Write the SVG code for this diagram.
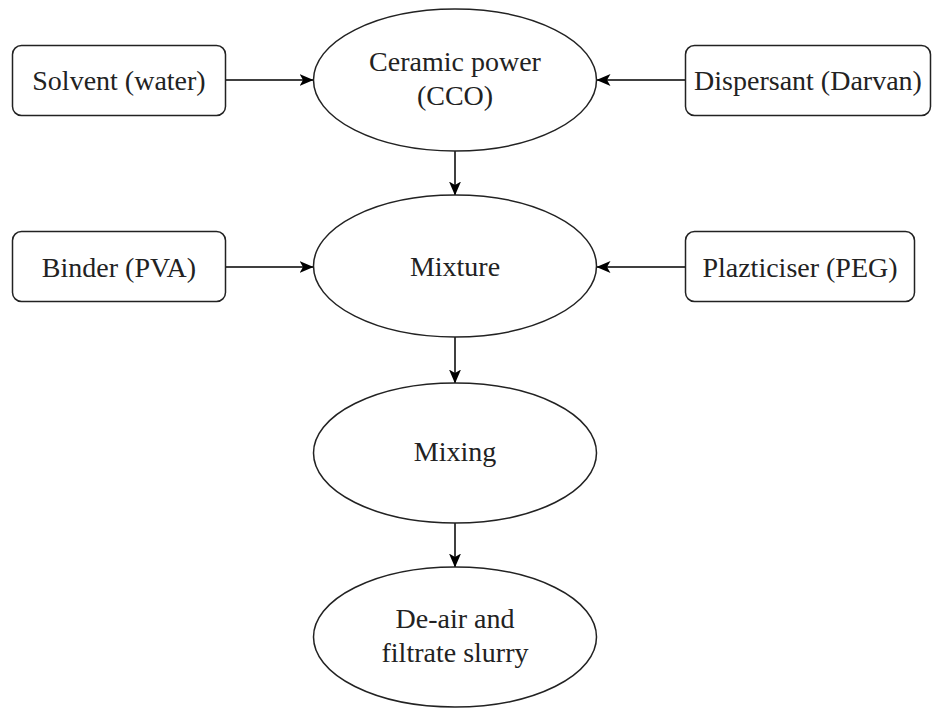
<svg xmlns="http://www.w3.org/2000/svg" width="932" height="709" viewBox="0 0 932 709">
<style>
.box{fill:#fff;stroke:#222;stroke-width:1.5}
.ell{fill:#fff;stroke:#222;stroke-width:1.5}
.t{font-family:"Liberation Serif","Times New Roman",serif;font-size:28px;fill:#222;text-anchor:middle}
.c{stroke:#000;stroke-width:1.5;fill:none;marker-end:url(#ah)}
</style>
<defs>
<marker id="ah" viewBox="0 0 14 12" refX="13.5" refY="6" markerWidth="14" markerHeight="12" orient="auto" markerUnits="userSpaceOnUse">
<path d="M0,0 L14,6 L0,12 L3.5,6 Z" fill="#000"/>
</marker>
</defs>
<rect width="932" height="709" fill="#fff"/>
<g id="connectors">
<line class="c" x1="226" y1="80" x2="313" y2="80"/>
<line class="c" x1="685" y1="80" x2="597" y2="80"/>
<line class="c" x1="455" y1="151" x2="455" y2="195"/>
<line class="c" x1="226" y1="267" x2="313" y2="267"/>
<line class="c" x1="685" y1="267" x2="597" y2="267"/>
<line class="c" x1="455" y1="337" x2="455" y2="383"/>
<line class="c" x1="455" y1="523" x2="455" y2="567"/>
</g>
<g id="solvent">
<rect class="box" x="12.5" y="45.5" width="213" height="70" rx="9"/>
<text class="t" x="119" y="90">Solvent (water)</text>
</g>
<g id="dispersant">
<rect class="box" x="685.5" y="45.5" width="245" height="70" rx="9"/>
<text class="t" x="808" y="90">Dispersant (Darvan)</text>
</g>
<g id="ceramic">
<ellipse class="ell" cx="455" cy="80" rx="141.5" ry="71"/>
<text class="t" x="455" y="71">Ceramic power</text>
<text class="t" x="455" y="105">(CCO)</text>
</g>
<g id="binder">
<rect class="box" x="12.5" y="231.5" width="213" height="70" rx="9"/>
<text class="t" x="119" y="277">Binder (PVA)</text>
</g>
<g id="plazticiser">
<rect class="box" x="685.5" y="231.5" width="229" height="70" rx="9"/>
<text class="t" x="800" y="277">Plazticiser (PEG)</text>
</g>
<g id="mixture">
<ellipse class="ell" cx="455" cy="266" rx="141.5" ry="71"/>
<text class="t" x="455" y="276">Mixture</text>
</g>
<g id="mixing">
<ellipse class="ell" cx="455" cy="453" rx="141.5" ry="70"/>
<text class="t" x="455" y="461">Mixing</text>
</g>
<g id="deair">
<ellipse class="ell" cx="455" cy="637" rx="141.5" ry="70"/>
<text class="t" x="455" y="628">De-air and</text>
<text class="t" x="455" y="662">filtrate slurry</text>
</g>
</svg>
